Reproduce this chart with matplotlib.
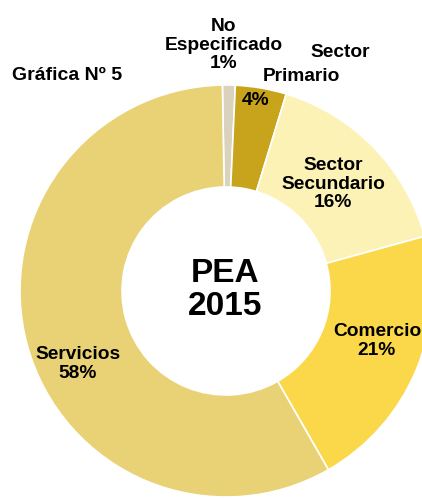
import matplotlib
matplotlib.use("Agg")
import matplotlib.pyplot as plt

categories = ["No Especificado", "Sector Primario", "Sector Secundario", "Comercio", "Servicios"]
values = [1, 4, 16, 21, 58]
colors = ["#D9D2BC", "#C8A41C", "#FCF2B6", "#FBD849", "#E9D275"]
title = "Gráfica Nº 5"
center_text = "PEA\n2015"

W, H = 422, 499
fig = plt.figure(figsize=(W / 100, H / 100), dpi=100)
ax = fig.add_axes([0, 0, 1, 1])

cx, cy = 226, H - 291
R = 206
wedges, _ = ax.pie(values, colors=colors, startangle=91, counterclock=False,
                   center=(cx, cy), radius=R, frame=True,
                   wedgeprops=dict(width=R - 104, edgecolor="white", linewidth=1.2))
ax.set_xlim(0, W)
ax.set_ylim(0, H)
ax.set_aspect("equal")
ax.axis("off")

fp = dict(family=["Liberation Sans", "DejaVu Sans"], fontweight="bold", color="black")
fs = 13.8


def T(x, y, s, size=fs, ha="center", ls=1.15):
    ax.text(x, H - y, s, ha=ha, va="center", fontsize=size, linespacing=ls, **fp)


T(12, 75, title, ha="left", size=14)
T(224, 45, "No\nEspecificado\n" + f"{values[0]}%")
T(340, 52, "Sector")
T(301, 76, "Primario")
T(256, 100, f"{values[1]}%")
T(333, 184, "Sector\nSecundario\n" + f"{values[2]}%")
T(377, 341, "Comercio\n" + f"{values[3]}%")
T(78, 364, "Servicios\n" + f"{values[4]}%")
T(225, 290, center_text, size=24, ls=1.1)

fig.savefig("out.png", dpi=100)
